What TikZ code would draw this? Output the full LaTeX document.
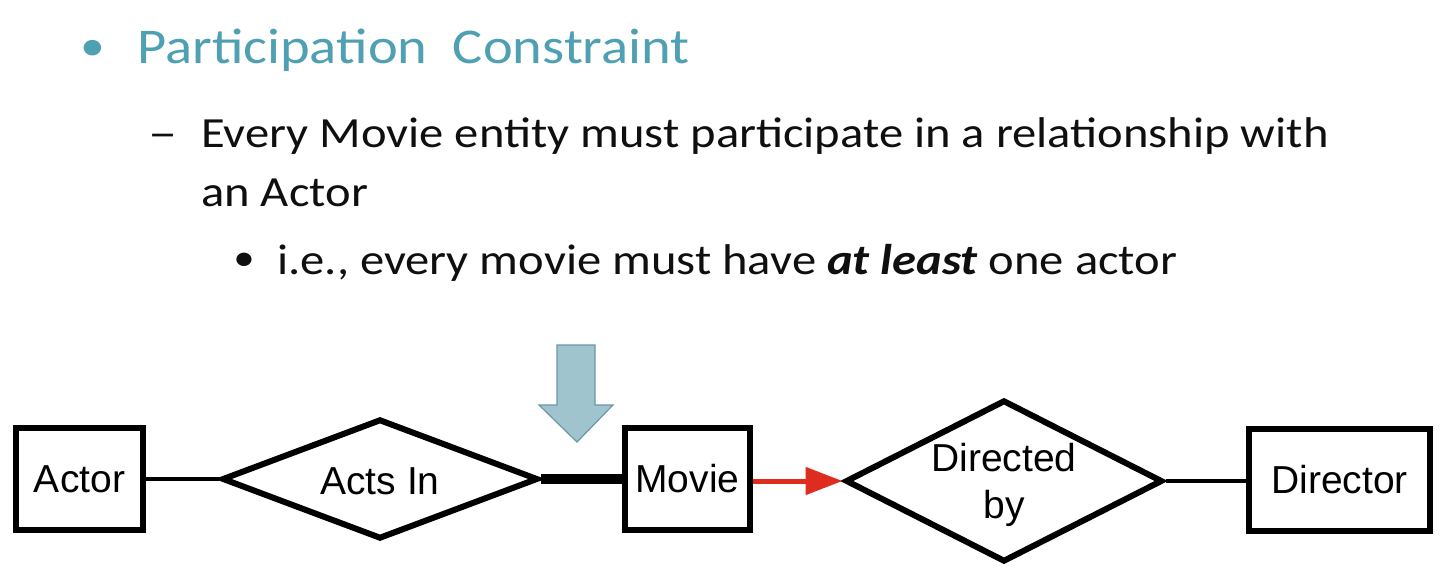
\documentclass[tikz,border=0pt]{standalone}
\usepackage{fontspec}
\setmainfont{Carlito}[FakeStretch=1.13]
\newfontfamily\diagfont{Liberation Sans}
\usetikzlibrary{shapes.geometric,arrows.meta}
\definecolor{titleteal}{RGB}{78,160,178}
\definecolor{hintblue}{RGB}{160,196,206}
\definecolor{hintedge}{RGB}{110,150,165}
\definecolor{relred}{RGB}{222,45,30}
\definecolor{bodyink}{RGB}{15,15,15}
\tikzset{
  labelfont/.style={font=\diagfont\fontsize{39}{47}\selectfont},
  entity/.style={draw, line width=6pt, rectangle, minimum height=102pt, inner sep=0pt, labelfont},
  relation/.style={draw, line width=6pt, diamond, inner sep=0pt},
  rellabel/.style={labelfont, align=center, inner sep=0pt},
  link/.style={line width=4pt},
  totallink/.style={line width=10pt},
  keylink/.style={line width=5pt, relred, -{Triangle[length=37pt,width=27pt]}},
  bodytext/.style={anchor=base west, inner sep=0pt, text=bodyink, font=\fontsize{43}{52}\selectfont}
}
\begin{document}
\begin{tikzpicture}[x=1pt,y=-1pt]
\useasboundingbox[fill=white] (0,0) rectangle (1454,580);

% slide text
\node[anchor=center, text=titleteal, font=\fontsize{44}{50}\selectfont] (b1) at (93,50) {•};
\node[anchor=base west, inner sep=0pt, text=titleteal, font=\fontsize{50}{60}\selectfont] (title) at (137,64) {Participation\ \ Constraint};
\node[bodytext, xscale=1.2] (dash) at (148,148) {–};
\node[bodytext] (l1) at (201,148) {Every Movie entity must participate in a relationship with};
\node[bodytext] (l2) at (201,207) {an Actor};
\node[anchor=center, text=bodyink, font=\fontsize{38}{40}\selectfont] (b2) at (244,262) {•};
\node[bodytext] (l3) at (277,275) {i.e., every movie must have \textbf{\textit{at least}} one actor};

% ER diagram
\node[entity, minimum width=127pt] (actor) at (79.5,479) {Actor};
\node[relation, minimum width=316pt, minimum height=120pt] (actsin) at (380,479) {};
\node[rellabel] (actsinlabel) at (380,481) {Acts In};
\node[entity, minimum width=125pt] (movie) at (687.5,479) {Movie};
\node[relation, minimum width=317pt, minimum height=162pt] (directed) at (1004,481) {};
\node[rellabel] (directedlabel) at (1004,485) {Directed\\by};
\node[entity, minimum width=181pt] (director) at (1339.5,480) {Director};

\draw[link] (actor.east) -- (actsin.west);
\draw[totallink] (actsin.east) -- (movie.west |- actsin.east);
\draw[keylink] (movie.east |- directed.west) -- (directed.west);
\draw[link] (directed.east) -- (director.west |- directed.east);

% pointer marking the total participation edge
\draw[hintedge, line width=1.2pt, fill=hintblue, line join=miter]
  (557,345) -- (595,345) -- (595,405) -- (613,405) -- (577,442) -- (539,405) -- (557,405) -- cycle;
\end{tikzpicture}
\end{document}
